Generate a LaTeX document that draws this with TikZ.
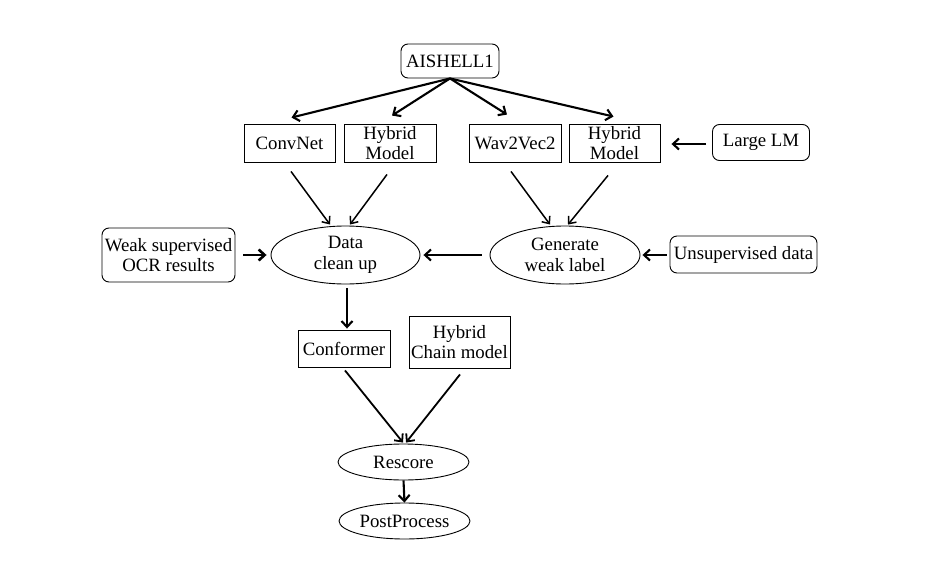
\documentclass[tikz,border=0pt]{standalone}
\usepackage{fontspec}
\setmainfont{Liberation Serif}
\usetikzlibrary{arrows.meta,shapes.geometric,calc}
\begin{document}
\begin{tikzpicture}[x=1pt,y=-1pt,
  every node/.style={font=\fontsize{18.8}{20.5}\selectfont, inner sep=0pt, align=center},
  box/.style={draw, line width=0.9pt, rectangle},
  rbox/.style={draw, line width=0.9pt, rectangle, rounded corners=7pt},
  ell/.style={draw, line width=0.9pt, ellipse},
  thk/.style={line width=2.1pt, -{Straight Barb[length=6pt,width=11pt]}},
  thn/.style={line width=1.5pt, -{Straight Barb[length=6pt,width=10pt]}}]
\useasboundingbox (0,0) rectangle (926,562);
\node[rbox, minimum width=98, minimum height=34] (ai) at (450,61) {AISHELL1};
\node[box, minimum width=91, minimum height=38] (conv) at (289.5,143) {ConvNet};
\node[box, minimum width=92, minimum height=38] (hyb1) at (390,143) {Hybrid\\Model};
\node[box, minimum width=92, minimum height=38] (wav) at (515,143) {Wav2Vec2};
\node[box, minimum width=91, minimum height=38] (hyb2) at (614.5,143) {Hybrid\\Model};
\node[rbox, minimum width=97, minimum height=36] (llm) at (761,142.5) {Large LM};
\node[rbox, minimum width=133, minimum height=54] (weak) at (168.5,255) {Weak supervised\\OCR results};
\node[ell, minimum width=149, minimum height=58] (clean) at (345.5,255) {Data\\clean up};
\node[ell, minimum width=150, minimum height=58] (gen) at (565,255) {Generate\\weak label};
\node[rbox, minimum width=147, minimum height=37] (unsup) at (743.5,254.5) {Unsupervised data};
\node[box, minimum width=92, minimum height=37] (conf) at (344,348.5) {Conformer};
\node[box, minimum width=101, minimum height=52] (chain) at (459.5,342) {Hybrid\\Chain model};
\node[ell, minimum width=131, minimum height=36] (resc) at (403.5,462) {Rescore};
\node[ell, minimum width=131, minimum height=36] (post) at (404.5,521) {PostProcess};

\draw[thk] (ai.south) -- ($(conv.north)+(2,-6)$);
\draw[thk] (ai.south) -- ($(hyb1.north)+(2,-8)$);
\draw[thk] (ai.south) -- ($(wav.north)+(-8,-9)$);
\draw[thk] (ai.south) -- ($(hyb2.north)+(-1,-7)$);
\draw[thk] ($(llm.west)+(-6,1.5)$) -- ($(hyb2.east)+(11,1)$);

\draw[thn] ($(conv.south)+(1.5,9)$) -- ($(clean.north)+(-15.5,-1)$);
\draw[thn] ($(hyb1.south)+(-3,12)$) -- ($(clean.north)+(4.5,-1)$);
\draw[thn] ($(wav.south)+(-4,9)$) -- ($(gen.north)+(-15,-1)$);
\draw[thn] ($(hyb2.south)+(-6.5,13)$) -- ($(gen.north)+(3,-1)$);

\draw[thk, line width=2.6pt] ($(weak.east)+(8,0)$) -- ($(clean.west)+(-4,0)$);
\draw[thk] ($(gen.west)+(-8,0)$) -- ($(clean.east)+(3,0)$);
\draw[thk] ($(unsup.west)+(-3,0.5)$) -- ($(gen.east)+(2,0)$);
\draw[thk] ($(clean.south)+(1.5,4)$) -- ($(conf.north)+(3,-1)$);

\draw[thk, line width=1.8pt] ($(conf.south)+(1,3)$) -- ($(resc.north)+(-0.5,-1)$);
\draw[thk, line width=1.8pt] ($(chain.south)+(0.5,6)$) -- ($(resc.north)+(2.5,-1)$);
\draw[thk] (resc.south) -- (post.north);
\end{tikzpicture}
\end{document}
